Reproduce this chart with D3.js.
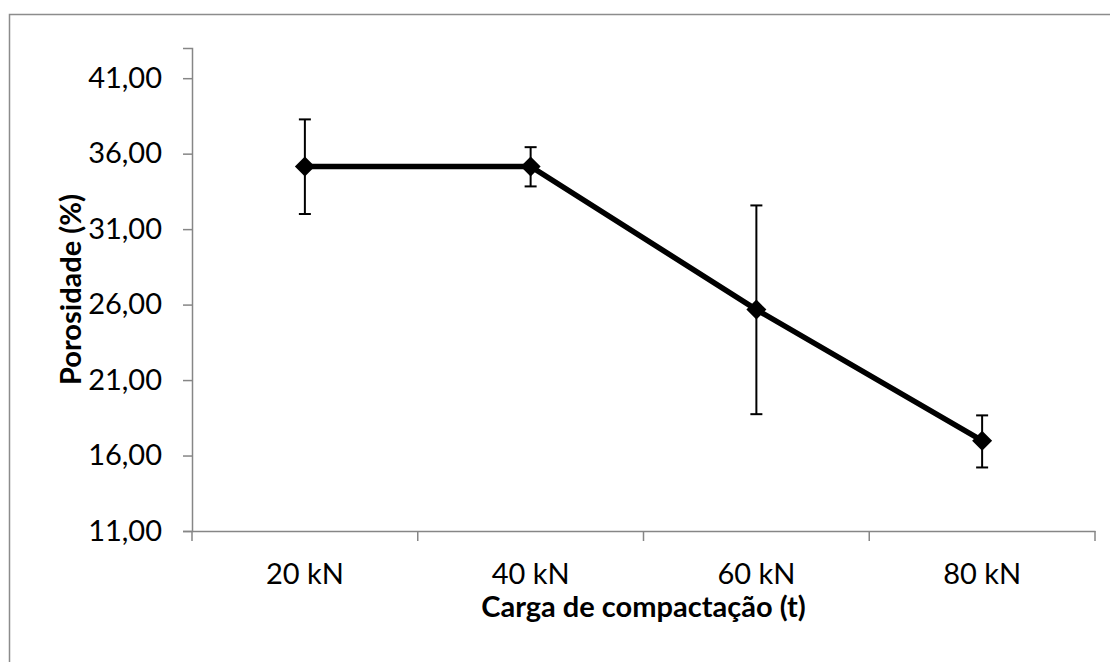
<!DOCTYPE html>
<html>
<head>
<meta charset="utf-8">
<script src="https://cdn.jsdelivr.net/npm/d3@7"></script>
<style>
  body { margin: 0; background: #fff; }
  text { font-family: Lato, "Open Sans", sans-serif; fill: #000; }
</style>
</head>
<body>
<div id="chart"></div>
<script>
// dados do gráfico
var categories = ["20 kN", "40 kN", "60 kN", "80 kN"];
var porosity = [35.15, 35.15, 25.67, 16.98];
var errUpper = [38.27, 36.43, 32.57, 18.66];
var errLower = [32.0, 33.83, 18.74, 15.21];
var yTicks = [11, 16, 21, 26, 31, 36, 41];

var width = 1110, height = 662;
var plot = { left: 192, right: 1095, top: 48, bottom: 531 };

var svg = d3.select("#chart").append("svg")
  .attr("width", width)
  .attr("height", height);

// moldura do gráfico
svg.append("rect")
  .attr("x", 9.5).attr("y", 14.5)
  .attr("width", 1200).attr("height", 800)
  .attr("fill", "none")
  .attr("stroke", "#8c8c8c")
  .attr("stroke-width", 1.5);

var x = d3.scaleBand().domain(categories).range([plot.left, plot.right]).padding(0);
var y = d3.scaleLinear().domain([11, 43]).range([plot.bottom, plot.top]);

var fmt = function (d) { return d3.format(".2f")(d).replace(".", ","); };

// eixo Y
var yAxis = svg.append("g")
  .attr("transform", "translate(" + plot.left + ",0)")
  .call(d3.axisLeft(y).tickValues(yTicks).tickSize(9).tickPadding(21).tickFormat(fmt));
yAxis.selectAll("text").style("font-size", "29px");

// eixo X (marcas nas divisões das categorias)
var xAxis = svg.append("g")
  .attr("transform", "translate(0," + plot.bottom + ")")
  .call(d3.axisBottom(x).tickSize(0).tickPadding(32));
xAxis.selectAll("text").style("font-size", "29px");
xAxis.selectAll(".tick line").remove();

var bounds = categories.map(function (c) { return x(c); }).concat([plot.right]);
svg.append("g").selectAll("line")
  .data(bounds)
  .enter().append("line")
  .attr("x1", function (d) { return d; })
  .attr("x2", function (d) { return d; })
  .attr("y1", plot.bottom)
  .attr("y2", plot.bottom + 10)
  .attr("stroke", "#868686")
  .attr("stroke-width", 1.5);

svg.selectAll(".domain, .tick line")
  .attr("stroke", "#868686")
  .attr("stroke-width", 1.5);

var cx = function (i) { return x(categories[i]) + x.bandwidth() / 2; };

// barras de erro
var eb = svg.append("g").selectAll("g")
  .data(porosity)
  .enter().append("g");
eb.append("line")
  .attr("x1", function (d, i) { return cx(i); })
  .attr("x2", function (d, i) { return cx(i); })
  .attr("y1", function (d, i) { return y(errUpper[i]); })
  .attr("y2", function (d, i) { return y(errLower[i]); })
  .attr("stroke", "#000").attr("stroke-width", 2);
[errUpper, errLower].forEach(function (arr) {
  eb.append("line")
    .attr("x1", function (d, i) { return cx(i) - 6; })
    .attr("x2", function (d, i) { return cx(i) + 6; })
    .attr("y1", function (d, i) { return y(arr[i]); })
    .attr("y2", function (d, i) { return y(arr[i]); })
    .attr("stroke", "#000").attr("stroke-width", 2);
});

// linha
svg.append("path")
  .datum(porosity)
  .attr("d", d3.line().x(function (d, i) { return cx(i); }).y(function (d) { return y(d); }))
  .attr("fill", "none")
  .attr("stroke", "#000")
  .attr("stroke-width", 5.5);

// marcadores losango
svg.append("g").selectAll("path")
  .data(porosity)
  .enter().append("path")
  .attr("transform", function (d, i) { return "translate(" + cx(i) + "," + y(d) + ")"; })
  .attr("d", "M0,-10L10,0L0,10L-10,0Z")
  .attr("fill", "#000");

// títulos dos eixos
svg.append("text")
  .attr("x", (plot.left + plot.right) / 2)
  .attr("y", 617)
  .attr("text-anchor", "middle")
  .style("font-size", "29px")
  .style("font-weight", "bold")
  .text("Carga de compactação (t)");

svg.append("text")
  .attr("transform", "translate(81," + (plot.top + plot.bottom) / 2 + ") rotate(-90)")
  .attr("text-anchor", "middle")
  .style("font-size", "29px")
  .style("font-weight", "bold")
  .text("Porosidade (%)");
</script>
</body>
</html>
